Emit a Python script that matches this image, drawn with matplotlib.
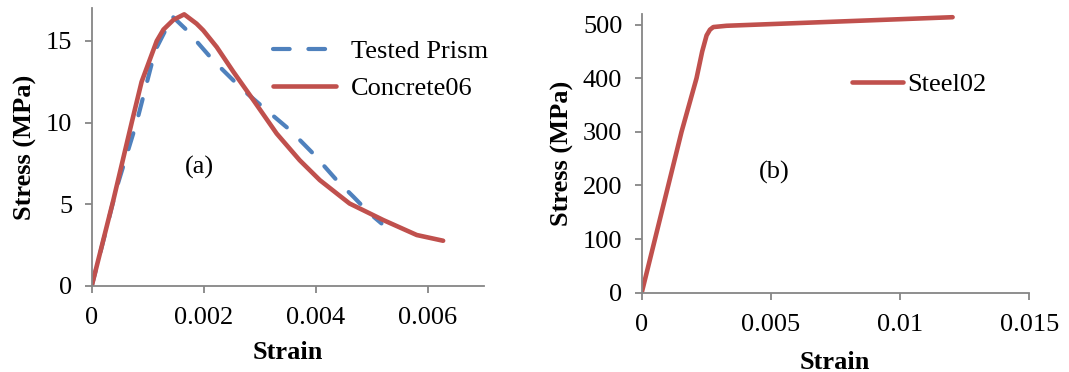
import matplotlib
matplotlib.use('Agg')
import matplotlib.pyplot as plt

# (a) 混凝土应力-应变
test_strain = [0, 0.00015, 0.00045, 0.0008, 0.00113, 0.00144, 0.0017, 0.00217, 0.0027,
               0.00312, 0.00354, 0.00395, 0.00437, 0.00467, 0.00496, 0.00517]
test_stress = [0, 2.0, 6.07, 10.0, 14.4, 16.5, 15.65, 13.8, 12.0,
               10.76, 9.54, 8.11, 6.48, 5.46, 4.44, 3.83]

c06_strain = [0, 0.000386, 0.000713, 0.00089, 0.00116, 0.00128, 0.00146, 0.00165, 0.00187,
              0.00199, 0.00223, 0.00253, 0.00288, 0.0033, 0.00371, 0.00407, 0.0046,
              0.0052, 0.0058, 0.00627]
c06_stress = [0, 5.26, 10.0, 12.5, 15.0, 15.7, 16.3, 16.63, 16.06,
              15.65, 14.63, 13.1, 11.4, 9.33, 7.7, 6.48, 5.05,
              4.04, 3.12, 2.77]

# (b) 钢筋
steel_strain = [0, 0.00154, 0.00212, 0.00234, 0.00251, 0.00264, 0.00277, 0.00328, 0.01203]
steel_stress = [0, 300, 400, 450, 480, 490.7, 495.6, 498, 514]

blue = '#4F81BD'
red = '#C0504D'
grey = '#868686'
fs = 19

plt.rcParams['font.family'] = ['Liberation Serif', 'DejaVu Serif']
plt.rcParams['font.size'] = fs

fig = plt.figure(figsize=(10.69, 3.72), dpi=100)
ax1 = fig.add_axes([0.0858, 0.2312, 0.3670, 0.7465])
ax2 = fig.add_axes([0.6003, 0.2132, 0.3626, 0.7492])

def style(ax):
    for s in ['top', 'right']:
        ax.spines[s].set_visible(False)
    for s in ['left', 'bottom']:
        ax.spines[s].set_color(grey)
        ax.spines[s].set_linewidth(1.3)
    ax.tick_params(direction='out', length=5, width=1.3, color=grey, labelsize=fs)
    ax.tick_params(axis='x', pad=10)
    ax.tick_params(axis='y', pad=9)
    ax.set_xlabel('Strain', fontweight='bold', fontsize=fs)
    ax.set_ylabel('Stress (MPa)', fontweight='bold', fontsize=fs)
    ax.xaxis.label.set_va('center')
    ax.yaxis.label.set_va('center')

ax1.plot(test_strain, test_stress, color=blue, lw=3, dashes=(4, 4.5), dash_capstyle='round',
         label='Tested Prism')
ax1.plot(c06_strain, c06_stress, color=red, lw=3.3, label='Concrete06',
         solid_capstyle='round', solid_joinstyle='round')
ax1.set_xlim(0, 0.007)
ax1.set_ylim(0, 17)
ax1.set_xticks([0, 0.002, 0.004, 0.006])
ax1.set_xticklabels(['0', '0.002', '0.004', '0.006'])
ax1.set_yticks([0, 5, 10, 15])
style(ax1)
ax1.xaxis.set_label_coords(0.5, -0.24)
ax1.yaxis.set_label_coords(-0.17, 0.499)
ax1.text(0.00192, 7.27, '(a)', ha='center', va='center', fontsize=fs)
ax1.legend(loc='center left', bbox_to_anchor=(0.462, 0.778), frameon=False, borderpad=0,
           borderaxespad=0, handlelength=2.4, handletextpad=0.55, labelspacing=0.5,
           fontsize=fs)

ax2.plot(steel_strain, steel_stress, color=red, lw=3.3, label='Steel02',
         solid_capstyle='round', solid_joinstyle='round')
ax2.set_xlim(0, 0.015)
ax2.set_ylim(0, 520)
ax2.set_xticks([0, 0.005, 0.01, 0.015])
ax2.set_xticklabels(['0', '0.005', '0.01', '0.015'])
ax2.set_yticks([0, 100, 200, 300, 400, 500])
style(ax2)
ax2.xaxis.set_label_coords(0.499, -0.25)
ax2.yaxis.set_label_coords(-0.205, 0.501)
ax2.text(0.00511, 225, '(b)', ha='center', va='center', fontsize=fs)
ax2.legend(loc='center left', bbox_to_anchor=(0.542, 0.748), frameon=False, borderpad=0,
           borderaxespad=0, handlelength=1.95, handletextpad=0.15, fontsize=fs)

fig.savefig('out.png', dpi=100)
